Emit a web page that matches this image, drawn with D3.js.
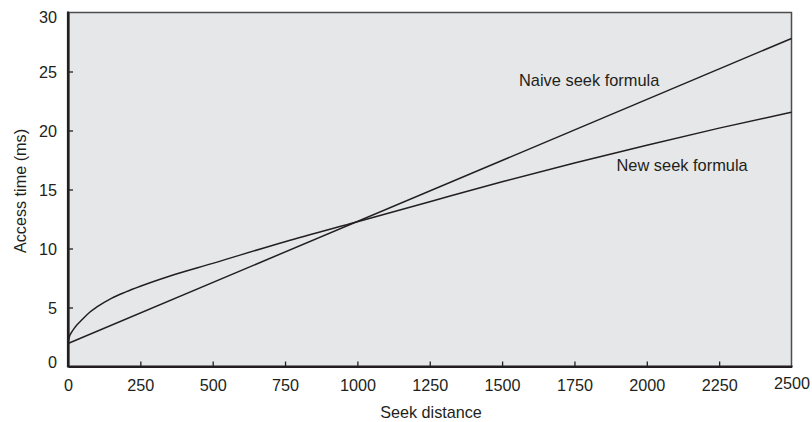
<!DOCTYPE html>
<html>
<head>
<meta charset="utf-8">
<script src="https://cdn.jsdelivr.net/npm/d3@7"></script>
<style>
  html, body { margin: 0; padding: 0; background: #ffffff; }
  svg { display: block; }
  text { font-family: "Liberation Sans", Arial, Helvetica, sans-serif; fill: #231f20; }
</style>
</head>
<body>
<svg id="chart" width="812" height="422"></svg>
<script>
// ---- data ----
const xTicks = [0, 250, 500, 750, 1000, 1250, 1500, 1750, 2000, 2250, 2500];
const yTicks = [0, 5, 10, 15, 20, 25, 30];

const naiveDistance = [0, 2500];
const naiveTime = [1.95, 27.8];

const newDistance = [0, 5, 10, 25, 50, 75, 100, 150, 200, 250, 350, 500, 750, 1000, 1250, 1500, 1750, 2000, 2250, 2500];
const newTime = [2.0, 2.55, 2.8, 3.35, 4.0, 4.6, 5.05, 5.78, 6.32, 6.8, 7.65, 8.74, 10.58, 12.27, 13.97, 15.66, 17.25, 18.75, 20.2, 21.55];

const xTitle = "Seek distance";
const yTitle = "Access time (ms)";
const naiveLabel = "Naive seek formula";
const newLabel = "New seek formula";

// ---- layout ----
const svg = d3.select("#chart");
const pLeft = 68, pRight = 791.5, pTop = 12.5, pBottom = 366.5;
const fs = 16.2;

const x = d3.scaleLinear().domain([0, 2500]).range([pLeft, pRight]);
const y = d3.scaleLinear().domain([0, 30]).range([pBottom, pTop]);

// plot background
svg.append("rect")
  .attr("x", pLeft).attr("y", pTop)
  .attr("width", pRight - pLeft).attr("height", pBottom - pTop)
  .attr("fill", "#e6e7e8");

// top & right frame (thinner)
svg.append("path")
  .attr("d", `M${pLeft},${pTop}H${pRight}V${pBottom}`)
  .attr("fill", "none").attr("stroke", "#4d4d4f").attr("stroke-width", 1.5);

// lines
const toPts = (xs, ys) => xs.map((d, i) => [d, ys[i]]);
const line = d3.line().x(d => x(d[0])).y(d => y(d[1])).curve(d3.curveMonotoneX);

svg.append("path")
  .attr("d", line(toPts(naiveDistance, naiveTime)))
  .attr("fill", "none").attr("stroke", "#231f20").attr("stroke-width", 1.5);
svg.append("path")
  .attr("d", line(toPts(newDistance, newTime)))
  .attr("fill", "none").attr("stroke", "#231f20").attr("stroke-width", 1.5);

// x axis
const xAxis = d3.axisBottom(x).tickValues(xTicks).tickFormat(d3.format("d"))
  .tickSizeInner(-5).tickSizeOuter(0).tickPadding(16);
const gx = svg.append("g").attr("transform", `translate(0,${pBottom})`).call(xAxis);
gx.select(".domain").attr("stroke", "#231f20").attr("stroke-width", 2.2);
gx.selectAll(".tick line").attr("stroke", "#231f20").attr("stroke-width", 1.3)
  .filter(d => d === 0 || d === 2500).remove();
gx.selectAll(".tick text").attr("font-size", fs).attr("fill", "#231f20")
  .attr("font-family", "Liberation Sans, Arial, sans-serif")
  .attr("dy", d => d === 2500 ? "0.42em" : "0.5em");

// y axis
const yAxis = d3.axisLeft(y).tickValues(yTicks).tickFormat(d3.format("d"))
  .tickSizeInner(-5).tickSizeOuter(0).tickPadding(11);
const gy = svg.append("g").attr("transform", `translate(${pLeft},0)`).call(yAxis);
gy.select(".domain").attr("stroke", "#231f20").attr("stroke-width", 2.2);
gy.selectAll(".tick line").attr("stroke", "#231f20").attr("stroke-width", 1.3)
  .filter(d => d === 0 || d === 30).remove();
gy.selectAll(".tick text").attr("font-size", fs).attr("fill", "#231f20")
  .attr("font-family", "Liberation Sans, Arial, sans-serif")
  .attr("dy", d => d === 30 ? "0.6em" : (d === 0 ? "0.05em" : "0.35em"));

// redraw the axis corner cleanly
svg.append("path")
  .attr("d", `M${pLeft},${pTop}V${pBottom}H${pRight}`)
  .attr("fill", "none").attr("stroke", "#231f20").attr("stroke-width", 2.2)
  .attr("stroke-linecap", "square");

// axis titles
svg.append("text")
  .attr("x", 431).attr("y", 418)
  .attr("text-anchor", "middle").attr("font-size", fs)
  .text(xTitle);

svg.append("text")
  .attr("transform", `translate(26,${191}) rotate(-90)`)
  .attr("text-anchor", "middle").attr("font-size", fs)
  .text(yTitle);

// series labels
svg.append("text")
  .attr("x", 519).attr("y", 86)
  .attr("font-size", 16.4)
  .text(naiveLabel);
svg.append("text")
  .attr("x", 616.5).attr("y", 171)
  .attr("font-size", 16.4)
  .text(newLabel);
</script>
</body>
</html>
